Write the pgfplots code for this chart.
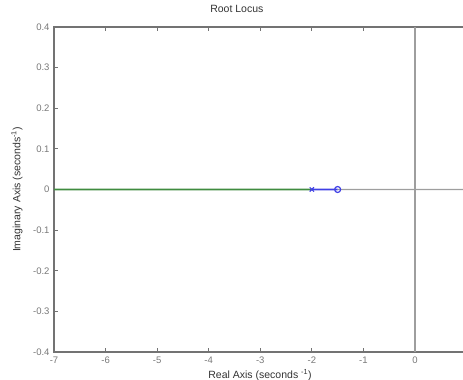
\documentclass[border=0pt]{standalone}
\usepackage{fontspec}
\setmainfont{Liberation Sans}
\usepackage{pgfplots}
\pgfplotsset{compat=1.18}
\definecolor{axgray}{rgb}{0.45,0.45,0.45}
\definecolor{tickgray}{rgb}{0.47,0.47,0.47}
\definecolor{zerogray}{rgb}{0.62,0.62,0.62}
\definecolor{locgreen}{rgb}{0.25,0.55,0.25}
\definecolor{locblue}{rgb}{0.25,0.25,0.9}
\begin{document}
\begin{tikzpicture}
\path[use as bounding box] (0,0) rectangle (463pt,380pt);
\begin{axis}[
  at={(54pt,28pt)}, anchor=south west,
  scale only axis, width=464.13pt, height=325pt,
  xmin=-7, xmax=2, ymin=-0.4, ymax=0.4,
  axis line style={draw=axgray, line width=1.1pt},
  xtick={-7,-6,...,0}, ytick={-0.4,-0.3,...,0.4},
  yticklabel style={/pgf/number format/fixed, /pgf/number format/precision=1},
  /pgf/number format/assume math mode=true,
  every tick/.style={draw=axgray, line width=1pt},
  major tick length=4pt, tick align=inside,
  xtick pos=both, ytick pos=left,
  xticklabel pos=lower,
  ticklabel style={font=\fontsize{9.5}{11}\selectfont, text=tickgray},
  xticklabel style={yshift=-1pt},
  yticklabel style={xshift=-1pt},
  title={Root Locus},
  title style={font=\fontsize{10.5}{12}\selectfont, text=black!80, at={(axis description cs:0.394,1.037)}, anchor=center},
  xlabel={Real Axis (seconds \textsuperscript{-1})},
  xlabel style={font=\fontsize{10.5}{12}\selectfont, text=black!80, at={(axis description cs:0.444,-0.071)}, anchor=center},
  ylabel={Imaginary Axis (seconds\textsuperscript{-1})},
  ylabel style={font=\fontsize{10.5}{12}\selectfont, text=black!80, at={(axis description cs:-0.08,0.5)}, anchor=center},
]
\addplot[draw=zerogray, line width=1.3pt, forget plot] coordinates {(-1.5,0) (2,0.00001)};
\addplot[draw=zerogray, line width=1.3pt, forget plot] coordinates {(0,-0.4) (0,0.4)};
\addplot[draw=locgreen, line width=1.6pt] coordinates {(-7,0) (-2,0.00001)};
\addplot[draw=locblue, line width=1.6pt] coordinates {(-2,0) (-1.5,0.00001)};
\addplot[draw=locblue, only marks, mark=x, mark size=3pt, mark options={line width=1.2pt}] coordinates {(-2,0)};
\addplot[draw=locblue, only marks, mark=o, mark size=3pt, mark options={line width=1.2pt}] coordinates {(-1.5,0)};
\end{axis}
\end{tikzpicture}
\end{document}
